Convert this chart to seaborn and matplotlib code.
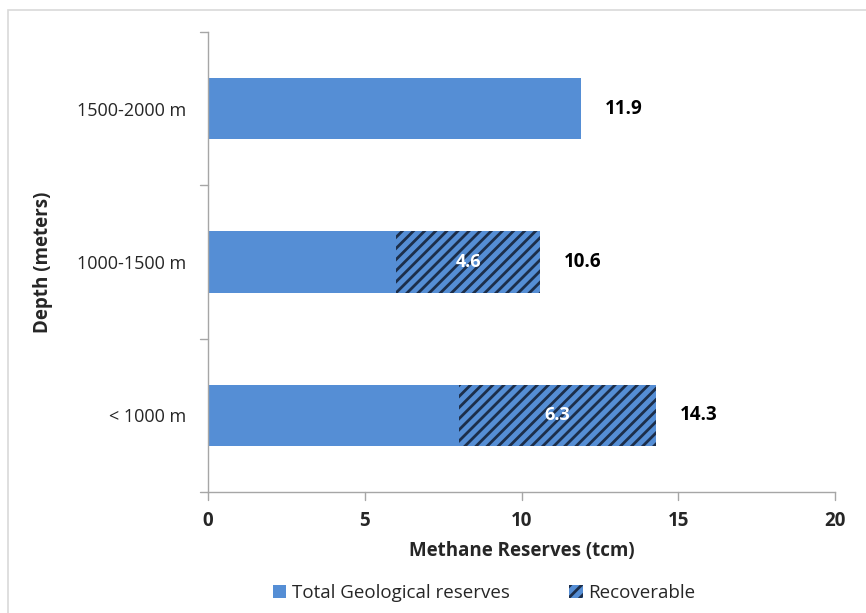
import matplotlib
matplotlib.use("Agg")
import matplotlib.pyplot as plt
from matplotlib.patches import Rectangle, Patch
import seaborn as sns
import pandas as pd

sns.set_theme(style="white")
plt.rcParams["font.family"] = ["Open Sans", "DejaVu Sans"]
plt.rcParams["hatch.linewidth"] = 2.0

# Methane reserves by depth band (trillion cubic metres)
depths = ["1500-2000 m", "1000-1500 m", "< 1000 m"]
geological = [11.9, 6.0, 8.0]
recoverable = [0.0, 4.6, 6.3]
x_ticks = [0, 5, 10, 15, 20]

blue = "#558ed5"
navy = "#1c2e4a"
totals = [g + r for g, r in zip(geological, recoverable)]
df = pd.DataFrame({"depth": depths, "geological": geological,
                   "recoverable": recoverable, "total": totals})

fig = plt.figure(figsize=(8.66, 6.13), dpi=100)
fig.patches.append(Rectangle((8 / 866, -0.1), 1.2, 1 - 10 / 613 + 0.1,
                             transform=fig.transFigure, fill=False,
                             edgecolor="#d9d9d9", linewidth=1.2))
ax = fig.add_axes([208 / 866, 1 - 492 / 613, 627 / 866, 460 / 613])

# Full stack drawn hatched, then the geological part laid over it
sns.barplot(data=df, x="total", y="depth", color=blue, width=0.4,
            saturation=1, ax=ax, linewidth=0)
for bar in ax.patches:
    bar.set_hatch("///")
    bar.set_edgecolor(navy)
    bar.set_linewidth(0)
sns.barplot(data=df, x="geological", y="depth", color=blue, width=0.4,
            saturation=1, ax=ax, linewidth=0)

fs = 13
fsb = 13.5
for i, (g, r, t) in enumerate(zip(geological, recoverable, totals)):
    ax.text(t + 0.75, i, f"{t:.1f}", va="center", ha="left",
            fontsize=fsb, fontweight="bold", color="black")
    if r > 0:
        ax.text(g + r / 2, i, f"{r:.1f}", va="center", ha="center",
                fontsize=fs, fontweight="bold", color="white")

ax.set_xlim(0, 20)
ax.set_ylim(2.5, -0.5)
ax.set_xticks(x_ticks)
ax.set_xticklabels([str(v) for v in x_ticks], fontsize=fsb, fontweight="bold")
ax.set_yticks(range(len(depths)))
ax.set_yticklabels(depths, fontsize=fs)
ax.tick_params(axis="y", length=0, pad=16)
ax.tick_params(axis="x", length=0, pad=14)

# Category separator ticks on the value axis, Excel style
for yb in [-0.5, 0.5, 1.5, 2.5]:
    ax.plot([-0.25, 0], [yb, yb], color="#a6a6a6", lw=1, clip_on=False)
for xv in x_ticks:
    ax.plot([xv, xv], [2.5, 2.5 + 0.05], color="#a6a6a6", lw=1, clip_on=False)

for s in ["top", "right"]:
    ax.spines[s].set_visible(False)
for s in ["left", "bottom"]:
    ax.spines[s].set_color("#a6a6a6")
    ax.spines[s].set_linewidth(1)

ax.set_xlabel("Methane Reserves (tcm)", fontsize=fsb, fontweight="bold",
              labelpad=7)
ax.set_ylabel("Depth (meters)", fontsize=fsb, fontweight="bold", labelpad=17)

handles = [Patch(facecolor=blue, edgecolor=blue, linewidth=0,
                 label="Total Geological reserves"),
           Patch(facecolor=blue, edgecolor=navy, linewidth=0, hatch="///",
                 label="Recoverable")]
fig.legend(handles=handles, loc="center", bbox_to_anchor=(0.559, 1 - 593 / 613),
           ncol=2, frameon=False, fontsize=13.5, handlelength=0.7,
           handleheight=0.7, handletextpad=0.3, columnspacing=3.2)

fig.savefig("out.png", dpi=100)
